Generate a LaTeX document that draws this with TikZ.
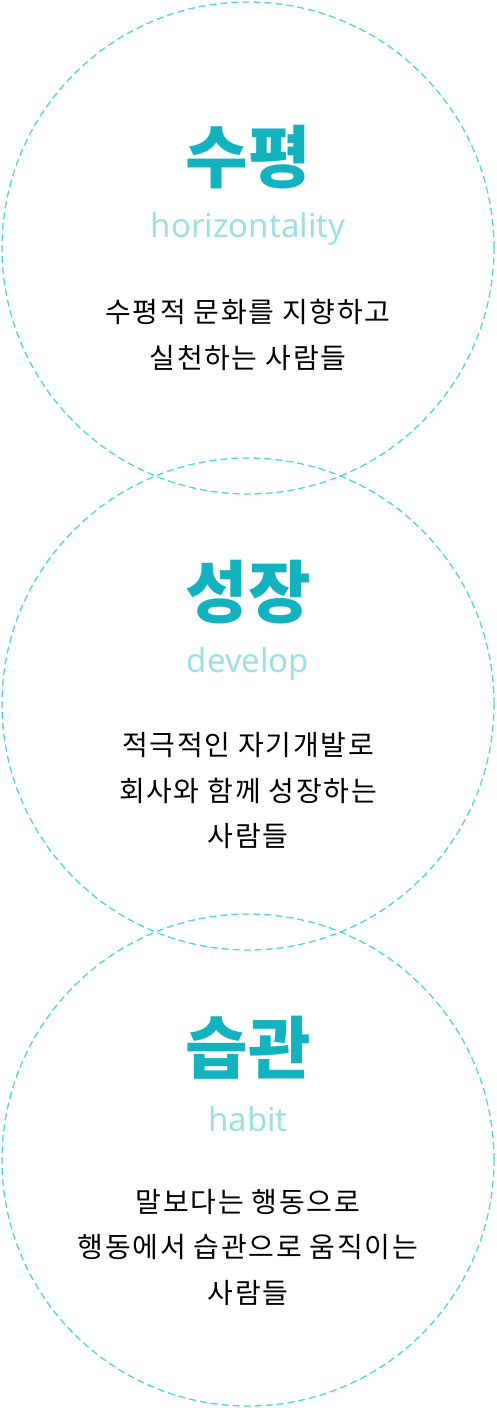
\documentclass[tikz,border=0pt]{standalone}
\usepackage{fontspec}
\setmainfont{Noto Sans}
\newfontfamily\krfont{Noto Sans CJK KR}
\newfontfamily\krbody{Noto Sans CJK KR}[LetterSpace=6]
\definecolor{ring}{HTML}{4DD6DC}
\definecolor{titlec}{HTML}{12B3BE}
\definecolor{subc}{HTML}{9EDFE4}
\tikzset{
  ringc/.style={draw=ring, line width=1.3pt, dash pattern=on 7pt off 4pt},
  titletext/.style={text=titlec, font=\krfont\bfseries\fontsize{68}{68}\selectfont, inner sep=0pt},
  subtext/.style={text=subc, font=\fontsize{33}{33}\selectfont, inner sep=0pt},
  bodytext/.style={text=black, font=\krbody\fontsize{28}{45.5}\selectfont, align=center, inner sep=0pt},
}
\begin{document}
\begin{tikzpicture}[x=1pt,y=-1pt]
\useasboundingbox (0,0) rectangle (496,1408);
\node[ringc, circle, minimum size=492pt, inner sep=0pt] (c1) at (248,248) {};
\node[ringc, circle, minimum size=492pt, inner sep=0pt] (c2) at (248,704) {};
\node[ringc, circle, minimum size=492pt, inner sep=0pt] (c3) at (248,1160) {};
\node[titletext] (t1) at (248,157) {수평};
\node[subtext] (s1) at (248,229) {horizontality};
\node[bodytext] (b1) at (248,335) {수평적 문화를 지향하고\\실천하는 사람들};
\node[titletext] (t2) at (248,592) {성장};
\node[subtext] (s2) at (248,664) {develop};
\node[bodytext] (b2) at (248,791) {적극적인 자기개발로\\회사와 함께 성장하는\\사람들};
\node[titletext] (t3) at (248,1048) {습관};
\node[subtext] (s3) at (248,1119) {habit};
\node[bodytext] (b3) at (248,1247) {말보다는 행동으로\\행동에서 습관으로 움직이는\\사람들};
\end{tikzpicture}
\end{document}
